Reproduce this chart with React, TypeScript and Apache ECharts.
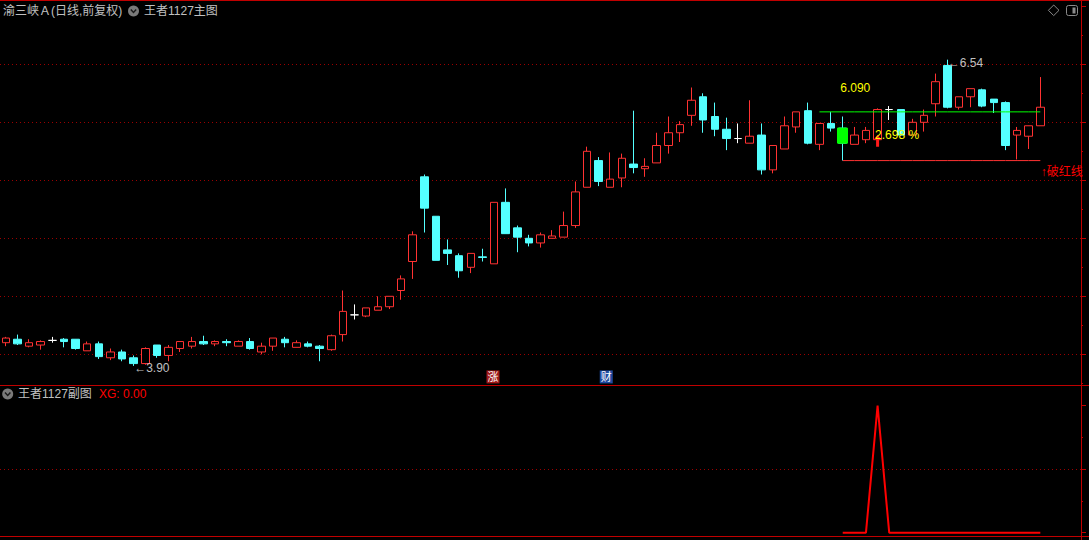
import React, { useEffect, useRef } from "react";
import * as echarts from "echarts";

// ---- data ----
const opens = [
  4.10, 4.13, 4.07, 4.08, 4.12, 4.13, 4.13, 4.03, 4.09, 3.97,
  4.02, 3.97, 3.92, 4.08, 3.99, 4.05, 4.07, 4.11, 4.09, 4.11,
  4.07, 4.11, 4.02, 4.07, 4.13, 4.06, 4.09, 4.07, 4.04, 4.17,
  4.34, 4.33, 4.38, 4.41, 4.55, 4.80, 5.53, 5.19, 4.90, 4.85,
  4.75, 4.84, 4.78, 5.31, 5.09, 5.00, 4.96, 5.00, 5.01, 5.11,
  5.44, 5.67, 5.44, 5.52, 5.64, 5.60, 5.65, 5.80, 5.91, 6.06,
  6.22, 6.05, 5.94, 5.86, 5.82, 5.89, 5.59, 5.77, 5.96, 6.10,
  5.81, 5.99, 5.95, 5.81, 5.85, 5.85, 6.11, 6.11, 5.89, 6.00,
  6.16, 6.49, 6.13, 6.22, 6.28, 6.20, 6.17, 5.89, 5.88, 5.97,
];
const closes = [
  4.14, 4.09, 4.10, 4.11, 4.12, 4.11, 4.05, 4.09, 3.98, 4.02,
  3.96, 3.92, 4.05, 3.99, 4.06, 4.11, 4.11, 4.09, 4.11, 4.10,
  4.11, 4.05, 4.07, 4.14, 4.10, 4.10, 4.07, 4.05, 4.16, 4.37,
  4.34, 4.40, 4.41, 4.50, 4.65, 5.03, 5.26, 4.81, 4.87, 4.72,
  4.87, 4.835, 5.31, 5.04, 5.01, 4.96, 5.03, 5.02, 5.11, 5.40,
  5.75, 5.49, 5.51, 5.69, 5.61, 5.62, 5.80, 5.91, 5.98, 6.19,
  6.02, 5.94, 5.86, 5.86, 5.88, 5.59, 5.80, 5.97, 6.09, 5.82,
  5.99, 5.95, 5.82, 5.89, 5.93, 6.11, 6.11, 5.89, 6.00, 6.06,
  6.35, 6.13, 6.22, 6.29, 6.14, 6.17, 5.80, 5.93, 5.97, 6.13,
];
const lows = [
  4.07, 4.08, 4.06, 4.04, 4.10, 4.06, 4.04, 4.03, 3.96, 3.95,
  3.94, 3.90, 3.91, 3.97, 3.94, 4.02, 4.05, 4.08, 4.07, 4.07,
  4.07, 4.04, 4.00, 4.03, 4.06, 4.06, 4.06, 3.94, 4.03, 4.11,
  4.30, 4.32, 4.38, 4.39, 4.47, 4.65, 5.05, 4.81, 4.77, 4.66,
  4.70, 4.80, 4.78, 5.04, 4.88, 4.93, 4.92, 5.00, 5.01, 5.09,
  5.44, 5.45, 5.44, 5.44, 5.56, 5.53, 5.65, 5.73, 5.83, 5.97,
  5.91, 5.88, 5.76, 5.82, 5.82, 5.55, 5.56, 5.77, 5.91, 5.81,
  5.76, 5.92, 5.67, 5.81, 5.82, 5.85, 6.02, 5.89, 5.89, 5.92,
  6.05, 6.12, 6.11, 6.13, 6.13, 6.08, 5.76, 5.68, 5.77, 5.97,
];
const highs = [
  4.15, 4.17, 4.13, 4.12, 4.15, 4.14, 4.13, 4.11, 4.11, 4.05,
  4.04, 3.99, 4.06, 4.08, 4.08, 4.11, 4.15, 4.16, 4.12, 4.13,
  4.12, 4.14, 4.10, 4.14, 4.15, 4.12, 4.11, 4.08, 4.17, 4.55,
  4.43, 4.40, 4.50, 4.50, 4.68, 5.06, 5.55, 5.19, 4.99, 4.87,
  4.87, 4.91, 5.31, 5.43, 5.11, 5.03, 5.05, 5.07, 5.23, 5.49,
  5.79, 5.70, 5.74, 5.73, 6.10, 5.69, 5.91, 6.05, 6.01, 6.30,
  6.25, 6.17, 6.04, 5.99, 6.19, 5.99, 5.80, 6.05, 6.09, 6.17,
  5.99, 6.09, 6.05, 5.96, 5.96, 6.12, 6.14, 6.11, 6.03, 6.11,
  6.42, 6.54, 6.22, 6.29, 6.29, 6.20, 6.18, 5.96, 5.97, 6.39,
];
const blankDays = ["E1", "E2", "E3"];
const categories = opens.map((_, i) => `D${i + 1}`).concat(blankDays);
const priceTicks = [4, 4.5, 5, 5.5, 6, 6.5, 7];

// indicator ("王者1127主图") overlays
const signalIndex = 72; // green stick day
const signalStick = [5.95, 5.82]; // green box top/bottom
const greenLineStart = 70;
const greenLineLevel = 6.09;
const redLineStart = 72;
const redLineLevel = 5.67;
const pctIndex = 75;
const pctText = "2.698 %";
const levelText = "6.090";
const levelTextPrice = 6.30;
const pctTextPrice = 5.89;
const arrowPrice = 5.84;
const breakTextPrice = 5.57;
const badgePrice = 3.805;
const badgeZhangIndex = 42;
const badgeCaiIndex = 52;

// sub chart ("王者1127副图") XG values
const xgStart = 72;
const xgValues = [0, 0, 0, 1, 0, 0, 0, 0, 0, 0, 0, 0, 0, 0, 0, 0, 0, 0];

const UP = "#ff3232";
const DOWN = "#54ffff";
const FRAME = "#c00000";
const GRID = "#9b0000";
const GREY = "#c0c0c0";
const FONT = '"Liberation Sans", "Noto Sans CJK SC", sans-serif';

export default function App() {
  const ref = useRef<HTMLDivElement>(null);

  useEffect(() => {
    if (!ref.current) return;
    const chart = echarts.init(ref.current, undefined, { renderer: "svg" });

    const candleData = opens.map((o, i) => [o, closes[i], lows[i], highs[i]]);
    const stickData = opens.map((_, i) =>
      i === signalIndex
        ? [signalStick[0], signalStick[1], signalStick[1], signalStick[0]]
        : ["-", "-", "-", "-"]
    );
    const greenLine = opens.map((_, i) => (i >= greenLineStart ? greenLineLevel : null));
    const redLine = opens.map((_, i) => (i >= redLineStart ? redLineLevel : null));
    const xgData = opens.map((_, i) =>
      i >= xgStart && i - xgStart < xgValues.length ? xgValues[i - xgStart] : null
    );

    let lowIdx = 0;
    let highIdx = 0;
    lows.forEach((v, i) => {
      if (v < lows[lowIdx]) lowIdx = i;
    });
    highs.forEach((v, i) => {
      if (v > highs[highIdx]) highIdx = i;
    });

    const textPoint = (coord: any[], text: string, color: string, extra: any = {}) => ({
      coord,
      symbol: "circle",
      symbolSize: 1,
      itemStyle: { color: "rgba(0,0,0,0)" },
      label: {
        show: true,
        position: "right",
        distance: 0,
        formatter: text,
        color,
        fontSize: 12,
        fontFamily: FONT,
        ...extra,
      },
    });

    const badge = (idx: number, text: string, bg: string, dx: number) => ({
      coord: [idx, badgePrice],
      symbol: "circle",
      symbolSize: 1,
      itemStyle: { color: "rgba(0,0,0,0)" },
      label: {
        show: true,
        position: "inside",
        formatter: text,
        color: "#ffffff",
        backgroundColor: bg,
        fontSize: 11,
        fontFamily: FONT,
        padding: [1, 1, 0, 1],
        lineHeight: 12,
        align: "center",
        verticalAlign: "middle",
        offset: [dx, 0],
      },
    });

    const option: any = {
      animation: false,
      backgroundColor: "#000000",
      grid: [
        { left: 0, top: 6.3, width: 1081, height: 406 },
        { left: 0, top: 405.7, width: 1081, height: 127 },
      ],
      xAxis: [
        { type: "category", gridIndex: 0, data: categories, boundaryGap: true, show: false },
        { type: "category", gridIndex: 1, data: categories, boundaryGap: true, show: false },
      ],
      yAxis: [
        {
          type: "value",
          gridIndex: 0,
          position: "right",
          min: 3.5,
          max: 7,
          interval: 0.5,
          axisLine: { show: false },
          axisLabel: { show: false },
          axisTick: {
            show: true,
            inside: false,
            length: 5,
            customValues: priceTicks,
            lineStyle: { color: FRAME },
          },
          minorTick: { show: true, splitNumber: 2, length: 2, lineStyle: { color: FRAME } },
          splitLine: {
            show: true,
            showMinLine: true,
            showMaxLine: false,
            lineStyle: { color: GRID, type: [1, 3], width: 1 },
          },
        },
        {
          type: "value",
          gridIndex: 1,
          position: "right",
          min: 0,
          max: 1,
          interval: 0.5,
          axisLine: { show: false },
          axisLabel: { show: false },
          axisTick: { show: true, inside: false, length: 5, lineStyle: { color: FRAME } },
          minorTick: { show: true, splitNumber: 2, length: 2, lineStyle: { color: FRAME } },
          splitLine: {
            show: true,
            showMinLine: false,
            showMaxLine: false,
            lineStyle: { color: GRID, type: [1, 3], width: 1 },
          },
        },
      ],
      series: [
        {
          name: "K",
          type: "candlestick",
          xAxisIndex: 0,
          yAxisIndex: 0,
          data: candleData,
          barWidth: 8,
          clip: false,
          itemStyle: {
            color: "#000000",
            color0: DOWN,
            borderColor: UP,
            borderColor0: DOWN,
            borderColorDoji: "#ffffff",
            borderWidth: 1,
          },
          markPoint: {
            silent: true,
            data: [
              textPoint([lowIdx, lows[lowIdx]], `←${lows[lowIdx].toFixed(2)}`, GREY, { offset: [0, 2] }),
              textPoint([highIdx, highs[highIdx]], `←${highs[highIdx].toFixed(2)}`, GREY, { offset: [0, 3] }),
              badge(badgeZhangIndex, "涨", "#a01818", -1),
              badge(badgeCaiIndex, "财", "#1f4aa0", -4),
            ],
          },
        },
        {
          name: "stick",
          type: "candlestick",
          xAxisIndex: 0,
          yAxisIndex: 0,
          data: stickData,
          barWidth: 10,
          clip: false,
          itemStyle: {
            color: "#00ff00",
            color0: "#00ff00",
            borderColor: "#00ff00",
            borderColor0: "#00ff00",
            borderWidth: 1,
          },
        },
        {
          name: "green",
          type: "line",
          xAxisIndex: 0,
          yAxisIndex: 0,
          data: greenLine,
          symbol: "none",
          lineStyle: { color: "#00ff00", width: 1 },
          markPoint: {
            silent: true,
            data: [textPoint([signalIndex, levelTextPrice], levelText, "#ffff00", { offset: [-3, 0] })],
          },
        },
        {
          name: "red",
          type: "line",
          xAxisIndex: 0,
          yAxisIndex: 0,
          data: redLine,
          symbol: "none",
          lineStyle: { color: UP, width: 1 },
          markPoint: {
            silent: true,
            data: [
              textPoint([pctIndex, pctTextPrice], pctText, "#ffff00", { offset: [-3, 0] }),
              {
                coord: [pctIndex, arrowPrice],
                symbol: "path://M4,0 L8,5 L5.5,5 L5.5,12 L2.5,12 L2.5,5 L0,5 Z",
                symbolSize: [8, 12],
                itemStyle: { color: "#ff1a1a" },
                label: { show: false },
              },
              textPoint([opens.length - 1, breakTextPrice], "↑破红线", "#ff0000"),
            ],
          },
        },
        {
          name: "XG",
          type: "line",
          xAxisIndex: 1,
          yAxisIndex: 1,
          data: xgData,
          symbol: "none",
          clip: false,
          lineStyle: { color: "#ff0000", width: 2 },
        },
      ],
      graphic: [
        { type: "line", shape: { x1: 0, y1: 0.5, x2: 1089, y2: 0.5 }, style: { stroke: FRAME, lineWidth: 1 } },
        { type: "line", shape: { x1: 0, y1: 385.5, x2: 1089, y2: 385.5 }, style: { stroke: FRAME, lineWidth: 1 } },
        { type: "line", shape: { x1: 0, y1: 536.5, x2: 1089, y2: 536.5 }, style: { stroke: FRAME, lineWidth: 1 } },
        { type: "line", shape: { x1: 1081.5, y1: 0, x2: 1081.5, y2: 540 }, style: { stroke: FRAME, lineWidth: 1 } },
        {
          type: "text",
          x: 3,
          y: 11,
          style: { text: "渝三峡Ａ(日线,前复权)", fill: GREY, font: `12px ${FONT}`, verticalAlign: "middle" },
        },
        { type: "circle", shape: { cx: 133.5, cy: 11, r: 5.5 }, style: { fill: "#7a7a7a" } },
        {
          type: "polyline",
          shape: { points: [[130.8, 9.6], [133.5, 12.4], [136.2, 9.6]] },
          style: { stroke: "#1a1a1a", lineWidth: 1.5, fill: "none" },
        },
        {
          type: "text",
          x: 144,
          y: 11,
          style: { text: "王者1127主图", fill: GREY, font: `12px ${FONT}`, verticalAlign: "middle" },
        },
        {
          type: "polygon",
          shape: { points: [[1053.7, 5], [1059, 10.3], [1053.7, 15.6], [1048.4, 10.3]] },
          style: { stroke: "#8a8a8a", fill: "none", lineWidth: 1 },
        },
        {
          type: "rect",
          shape: { x: 1066.5, y: 5.5, width: 11, height: 10, r: 2 },
          style: { stroke: "#8a8a8a", fill: "none", lineWidth: 1 },
        },
        { type: "rect", shape: { x: 1072.5, y: 7.5, width: 3, height: 6 }, style: { fill: "#8a8a8a" } },
        { type: "circle", shape: { cx: 7.7, cy: 394, r: 5.5 }, style: { fill: "#7a7a7a" } },
        {
          type: "polyline",
          shape: { points: [[5, 392.6], [7.7, 395.4], [10.4, 392.6]] },
          style: { stroke: "#1a1a1a", lineWidth: 1.5, fill: "none" },
        },
        {
          type: "text",
          x: 18,
          y: 394,
          style: { text: "王者1127副图", fill: GREY, font: `12px ${FONT}`, verticalAlign: "middle" },
        },
        {
          type: "text",
          x: 99,
          y: 394,
          style: {
            text: `XG: ${(xgData[xgData.length - 1] ?? 0).toFixed(2)}`,
            fill: "#ff0000",
            font: `12px ${FONT}`,
            verticalAlign: "middle",
          },
        },
      ],
    };

    chart.setOption(option);
    return () => chart.dispose();
  }, []);

  return (
    <div
      ref={ref}
      style={{ position: "absolute", left: 0, top: 0, width: 1089, height: 540, background: "#000" }}
    />
  );
}
